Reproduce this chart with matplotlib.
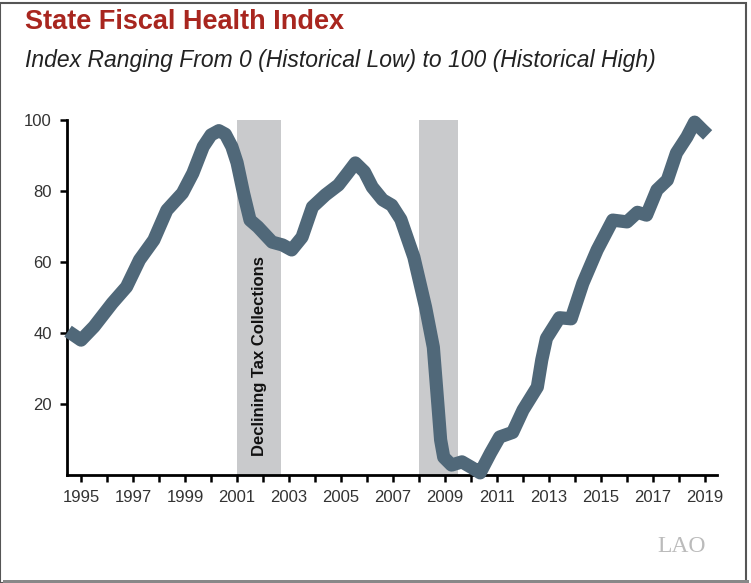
import matplotlib
matplotlib.use('Agg')
import matplotlib.pyplot as plt
from matplotlib.patches import Rectangle

# index values (year, value)
years = [1994.5, 1995.0, 1995.5, 1996.2, 1996.75, 1997.25, 1997.8, 1998.3,
         1998.9, 1999.3, 1999.7, 2000.0, 2000.3, 2000.55, 2000.8, 2001.0,
         2001.25, 2001.5, 2001.8, 2002.35, 2002.75, 2003.1, 2003.5, 2003.9,
         2004.4, 2004.9, 2005.25, 2005.55, 2005.9, 2006.2, 2006.6, 2006.95,
         2007.3, 2007.8, 2008.25, 2008.55, 2008.65, 2008.75, 2008.83, 2008.95,
         2009.25, 2009.65, 2010.05, 2010.35, 2010.75, 2011.1, 2011.6, 2012.0,
         2012.55, 2012.72, 2012.9, 2013.4, 2013.85, 2014.3, 2014.85, 2015.45,
         2016.0, 2016.4, 2016.75, 2017.15, 2017.55, 2017.9, 2018.3, 2018.6,
         2018.9, 2019.1]
index = [40.5, 38.0, 41.8, 48.4, 53.0, 60.6, 66.2, 74.6,
         79.4, 85.0, 92.5, 95.8, 97.0, 96.0, 92.5, 88.0,
         79.4, 71.8, 69.9, 65.6, 64.8, 63.4, 67.0, 75.5,
         78.9, 81.7, 85.0, 87.9, 85.4, 81.1, 77.5, 76.0,
         72.0, 61.4, 47.3, 36.0, 26.8, 17.5, 9.9, 5.0,
         2.8, 3.7, 2.0, 0.6, 6.2, 10.7, 12.0, 18.3,
         24.8, 32.4, 38.5, 44.3, 44.0, 54.0, 63.4, 71.8,
         71.3, 74.0, 73.2, 80.3, 83.1, 90.7, 95.2, 99.4,
         97.2, 95.8]

# periods of declining tax collections
recessions = [(2001.0, 2002.7), (2008.0, 2009.5)]

xticks = list(range(1995, 2020))
xlabels = [str(y) if y % 2 == 1 else '' for y in xticks]
yticks = [20, 40, 60, 80, 100]

plt.rcParams['font.family'] = ['Liberation Sans', 'DejaVu Sans']

fig = plt.figure(figsize=(7.51, 5.83), dpi=100)
ax = fig.add_axes([67/751, 1-475/583, 650/751, 355/583])

for x0, x1 in recessions:
    ax.axvspan(x0, x1, ymin=0, ymax=1, color='#c9cacc', lw=0, zorder=1)

ax.plot(years, index, color='#506879', lw=9.5, solid_capstyle='butt',
        solid_joinstyle='round', zorder=3, clip_on=False)

ax.text(sum(recessions[0]) / 2, 33.5, 'Declining Tax Collections', rotation=90,
        ha='center', va='center', fontsize=12, fontweight='bold',
        color='#111111', zorder=4)

ax.set_xlim(1994.46, 2019.46)
ax.set_ylim(0, 100)
ax.set_xticks(xticks)
ax.set_xticklabels(xlabels)
ax.set_yticks(yticks)
for s in ['top', 'right']:
    ax.spines[s].set_visible(False)
for s in ['left', 'bottom']:
    ax.spines[s].set_linewidth(2)
ax.tick_params(axis='both', direction='out', length=5, width=1.8,
               labelsize=12, labelcolor='#333333', pad=6)

fig.text(25/751, 1-22/583, 'State Fiscal Health Index', fontsize=19.5,
         fontweight='bold', color='#a8261f', va='center')
fig.text(25/751, 1-60/583,
         'Index Ranging From 0 (Historical Low) to 100 (Historical High)',
         fontsize=16.5, style='italic', color='#222222', va='center')
fig.text(682/751, 1-547/583, 'LAO', fontsize=17, color='#bbbbbb',
         family=['Liberation Serif', 'DejaVu Serif'], ha='center', va='center')

# frame with a slight shadow
fig.patches.append(Rectangle((0.0, 0.0), 0.993, 0.995, transform=fig.transFigure,
                             fill=False, ec='#555555', lw=1.5))
fig.patches.append(Rectangle((0.004, 0.0), 0.993, 0.005, transform=fig.transFigure,
                             color='#888888', lw=0))

fig.savefig('out.png', dpi=100)
